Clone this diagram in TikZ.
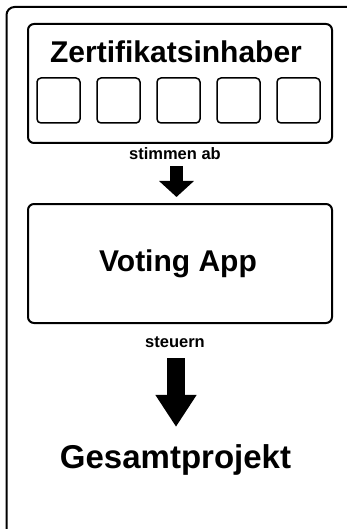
\documentclass[tikz,border=0pt]{standalone}
\usepackage{fontspec}
\setmainfont{Liberation Sans}
\usetikzlibrary{arrows.meta}

\tikzset{
  panel/.style={draw=black, line width=2pt, rounded corners=6pt, fill=white,
    minimum width=304pt, minimum height=119pt, inner sep=0pt},
  slot/.style={draw=black, line width=1.5pt, rounded corners=4pt,
    minimum width=43pt, minimum height=45pt, inner sep=0pt},
  bigtext/.style={anchor=base, inner sep=0pt, font=\bfseries\fontsize{30}{36}\selectfont},
  goaltext/.style={anchor=base, inner sep=0pt, font=\bfseries\fontsize{33}{40}\selectfont},
  smalltext/.style={anchor=base, inner sep=0pt, font=\bfseries\fontsize{16.5}{20}\selectfont},
  blockarrow/.style={line width=#1, line cap=butt},
}

\begin{document}
\begin{tikzpicture}[x=1pt, y=-1pt]
  \useasboundingbox (0,0) rectangle (347,529);
  \clip (0,0) rectangle (347,529);
  \fill[white] (0,0) rectangle (347,529);

  % outer frame, running past the right and bottom edges
  \draw[line width=2pt, rounded corners=8pt] (6.5,7) rectangle (370,560);

  % certificate holders
  \node[panel] (holders) at (180,83.5) {};
  \node[bigtext] (title) at (176,63) {Zertifikatsinhaber};
  \foreach \i/\x in {1/58.5, 2/118.5, 3/178.5, 4/238.5, 5/298.5}
    \node[slot] (slot\i) at (\x,100.5) {};

  \node[smalltext] (vote) at (175,160) {stimmen ab};

  % voting app
  \node[panel] (app) at (180,263.5) {};
  \node[bigtext] (applabel) at (178,271) {Voting App};

  \node[smalltext] (steer) at (175,347) {steuern};

  % overall project
  \node[goaltext] (goal) at (175.5,468) {Gesamtprojekt};

  % block arrows
  \draw[blockarrow=13pt, -{Triangle[width=34pt,length=16pt]},
        shorten <=6pt, shorten >=6pt]
    ([xshift=1.5pt]vote.south) -- ([xshift=1.5pt]vote.south |- app.north);
  \draw[blockarrow=18pt, -{Triangle[width=39pt,length=32pt]},
        shorten <=11pt, shorten >=17pt]
    ([xshift=1pt]steer.south) -- ([xshift=1pt]steer.south |- goal.north);
\end{tikzpicture}
\end{document}
